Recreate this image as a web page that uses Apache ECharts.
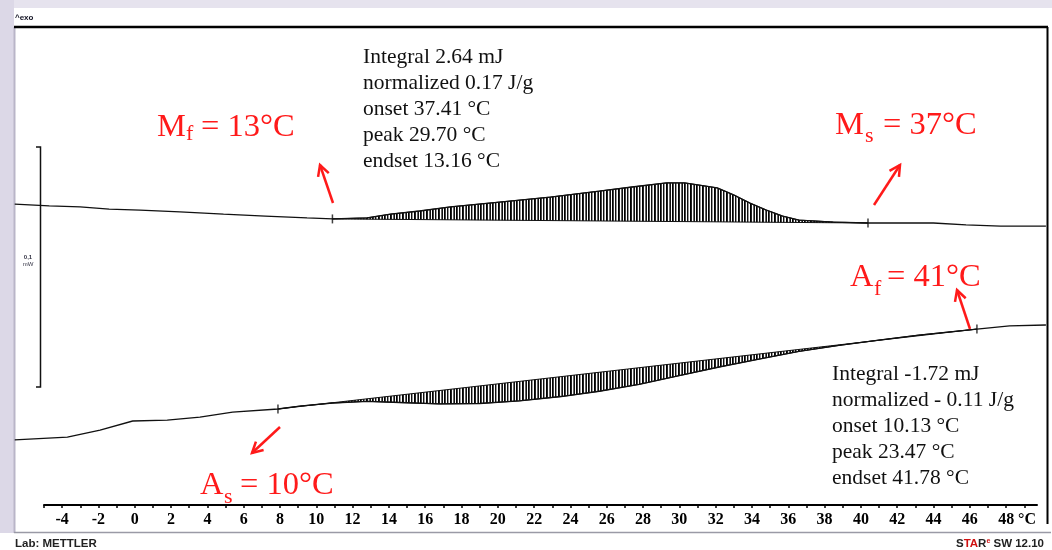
<!DOCTYPE html>
<html><head><meta charset="utf-8">
<script src="https://cdn.jsdelivr.net/npm/echarts/dist/echarts.min.js"></script>
<style>html,body{margin:0;padding:0;background:#fff}#c{width:1052px;height:550px}</style>
</head><body><div id="c"></div>
<script>
// Temperature (°C) and heat flow (mW, arbitrary offset)
const upperT = [-6.6, -4.7, -3.0, -1.4, 0.3, 2.5, 4.9, 7.2, 9.5, 10.9, 12.8, 14.1, 15.7, 17.4, 20.1, 22.9, 25.6, 27.4, 29.3, 30.3, 31.1, 32.1, 33.0, 33.9, 34.8, 35.7, 36.6, 38.5, 40.4, 44.0, 45.8, 47.7, 50.2];
const upperV = [0.0400, 0.0392, 0.0388, 0.0379, 0.0375, 0.0367, 0.0358, 0.0350, 0.0342, 0.0338, 0.0342, 0.0358, 0.0371, 0.0388, 0.0408, 0.0429, 0.0454, 0.0471, 0.0488, 0.0488, 0.0479, 0.0467, 0.0438, 0.0404, 0.0375, 0.0350, 0.0333, 0.0325, 0.0321, 0.0321, 0.0313, 0.0308, 0.0308];
const lowerT = [-6.6, -3.7, -1.9, -0.1, 1.8, 3.6, 5.4, 7.9, 9.1, 10.9, 12.8, 14.6, 16.8, 19.0, 21.2, 23.5, 25.6, 27.8, 30.0, 32.2, 34.4, 36.6, 38.8, 41.0, 43.2, 46.4, 48.2, 50.2];
const lowerV = [-0.0583, -0.0571, -0.0542, -0.0504, -0.0500, -0.0488, -0.0467, -0.0454, -0.0442, -0.0429, -0.0422, -0.0427, -0.0433, -0.0431, -0.0420, -0.0402, -0.0380, -0.0351, -0.0315, -0.0279, -0.0246, -0.0214, -0.0189, -0.0167, -0.0146, -0.0121, -0.0108, -0.0104];
// integration limits (baseline end points) of each peak
const upperLimits = [10.9, 40.4];
const lowerLimits = [7.9, 46.4];
const xTickLabels = [-4, -2, 0, 2, 4, 6, 8, 10, 12, 14, 16, 18, 20, 22, 24, 26, 28, 30, 32, 34, 36, 38, 40, 42, 44, 46, 48];
const upperInfo = ['Integral 2.64 mJ', 'normalized 0.17 J/g', 'onset 37.41 °C', 'peak 29.70 °C', 'endset 13.16 °C'];
const lowerInfo = ['Integral -1.72 mJ', 'normalized - 0.11 J/g', 'onset 10.13 °C', 'peak 23.47 °C', 'endset 41.78 °C'];

// hatch pattern (irregular vertical strokes)
const pc = document.createElement('canvas');
pc.width = 12; pc.height = 4;
const g = pc.getContext('2d');
g.fillStyle = '#fff'; g.fillRect(0, 0, 12, 4);
[[0, '#000'], [1, '#444'], [3, '#111'], [4, '#999'], [6, '#000'], [7, '#222'], [9, '#666'], [10, '#111']].forEach(([x, c]) => { g.fillStyle = c; g.fillRect(x, 0, 1, 4); });
const hatch = { image: pc, repeat: 'repeat' };

const pairs = (T, V) => T.map((t, i) => [t, V[i]]);

function hatchSeries(T, V, lim) {
  const i0 = T.indexOf(lim[0]), i1 = T.indexOf(lim[1]);
  return {
    type: 'custom', z: 2, silent: true, xAxisIndex: 0, yAxisIndex: 0,
    data: [[T[i0], V[i0]]],
    renderItem: function (params, api) {
      const pts = [];
      for (let i = i0; i <= i1; i++) pts.push(api.coord([T[i], V[i]]));
      return { type: 'polygon', shape: { points: pts }, style: { fill: hatch, stroke: '#111', lineWidth: 1 } };
    }
  };
}

const markerData = [];
[[upperT, upperV, upperLimits], [lowerT, lowerV, lowerLimits]].forEach(([T, V, L]) => {
  L.forEach(t => markerData.push([t, V[T.indexOf(t)]]));
});

const serif = 'Liberation Serif, Times New Roman, serif';
const sans = 'Liberation Sans, Arial, sans-serif';
const red = '#ff1a1a';

function txt(x, y, text, size, color, extra) {
  return { type: 'text', z: 10, style: Object.assign({ x: x, y: y, text: text, fontSize: size, fontFamily: serif, fill: color, align: 'left', verticalAlign: 'middle' }, extra || {}) };
}
function arrow(tx, ty, hx, hy) {
  const dx = hx - tx, dy = hy - ty, L = Math.hypot(dx, dy), ux = dx / L, uy = dy / L;
  const a = 28 * Math.PI / 180, s = 12;
  const w = (ang) => [hx - s * (ux * Math.cos(ang) - uy * Math.sin(ang)), hy - s * (ux * Math.sin(ang) + uy * Math.cos(ang))];
  return [
    { type: 'line', z: 10, shape: { x1: tx, y1: ty, x2: hx, y2: hy }, style: { stroke: red, lineWidth: 2.5 } },
    { type: 'polyline', z: 10, shape: { points: [w(a), [hx, hy], w(-a)] }, style: { stroke: red, lineWidth: 2.5, fill: null } }
  ];
}

const graphic = [
  { type: 'rect', z: -1, shape: { x: 0, y: 0, width: 1052, height: 8 }, style: { fill: '#e6e3ee' } },
  { type: 'rect', z: -1, shape: { x: 0, y: 0, width: 14, height: 533 }, style: { fill: '#dcd8e7' } },
  { type: 'line', z: 1, shape: { x1: 14.5, y1: 27, x2: 14.5, y2: 533 }, style: { stroke: '#b9b5c8', lineWidth: 2 } },
  { type: 'line', z: 1, shape: { x1: 14, y1: 27, x2: 1048, y2: 27 }, style: { stroke: '#000', lineWidth: 2.5 } },
  { type: 'line', z: 1, shape: { x1: 1047.5, y1: 27, x2: 1047.5, y2: 524 }, style: { stroke: '#000', lineWidth: 2 } },
  { type: 'line', z: 1, shape: { x1: 14, y1: 532.5, x2: 1051, y2: 532.5 }, style: { stroke: '#9a9aa6', lineWidth: 1.5 } },
  // scale bar
  { type: 'polyline', z: 1, shape: { points: [[36, 147], [40.5, 147], [40.5, 387], [36, 387]] }, style: { stroke: '#111', lineWidth: 1.5, fill: null } },
  { type: 'text', z: 10, style: { x: 28, y: 257, text: '0,1', fontSize: 6, fontWeight: 'bold', fontFamily: sans, fill: '#334', align: 'center', verticalAlign: 'middle' } },
  { type: 'text', z: 10, style: { x: 28, y: 264, text: 'mW', fontSize: 6, fontFamily: sans, fill: '#334', align: 'center', verticalAlign: 'middle' } },
  { type: 'text', z: 10, style: { x: 15, y: 18, text: '^exo', fontSize: 8, fontWeight: 'bold', fontFamily: sans, fill: '#112', align: 'left', verticalAlign: 'middle' } },
  // footer
  { type: 'text', z: 10, style: { x: 15, y: 544, text: 'Lab: METTLER', fontSize: 11.5, fontWeight: 'bold', fontFamily: sans, fill: '#222', align: 'left', verticalAlign: 'middle' } },
  { type: 'text', z: 10, style: { x: 1044, y: 544, text: '{k|S}{r|TA}{k|R}{s|e}{k| SW 12.10}', align: 'right', verticalAlign: 'middle', fontFamily: sans,
      rich: { k: { fontSize: 11.5, fontWeight: 'bold', fill: '#222', fontFamily: sans }, r: { fontSize: 11.5, fontWeight: 'bold', fill: '#d01010', fontFamily: sans }, s: { fontSize: 7, fontWeight: 'bold', fill: '#d01010', padding: [0, 0, 6, 0], fontFamily: sans } } } },
  // axis unit
  { type: 'text', z: 10, style: { x: 1018, y: 520, text: '°C', fontSize: 16, fontWeight: 'bold', fontFamily: serif, fill: '#000', align: 'left', verticalAlign: 'middle' } },
  // info blocks
  txt(363, 44, upperInfo.join('\n'), 21.5, '#111', { verticalAlign: 'top', lineHeight: 26 }),
  txt(832, 361, lowerInfo.join('\n'), 21.5, '#111', { verticalAlign: 'top', lineHeight: 26 }),
  // red annotations
  txt(157, 127, 'M', 32.5, red), txt(186, 134, 'f', 22, red), txt(201, 127, '= 13°C', 32.5, red),
  txt(835, 125, 'M', 32.5, red), txt(865, 136, 's', 22, red), txt(883, 125, '= 37°C', 32.5, red),
  txt(850, 277, 'A', 32.5, red), txt(874, 289, 'f', 22, red), txt(887, 277, '= 41°C', 32.5, red),
  txt(200, 485, 'A', 32.5, red), txt(224, 497, 's', 22, red), txt(240, 485, '= 10°C', 32.5, red)
].concat(arrow(333, 203, 320, 165), arrow(874, 205, 900, 165), arrow(970, 329, 957, 290), arrow(280, 427, 252, 453));

const chart = echarts.init(document.getElementById('c'), null, { renderer: 'canvas' });
chart.setOption({
  animation: false,
  backgroundColor: '#fff',
  grid: [
    { left: 14, right: 5, top: 25, bottom: 45 },   // data area spans the whole frame
    { left: 44, right: 15, top: 25, bottom: 45 }   // visible temperature axis
  ],
  xAxis: [
    { type: 'value', gridIndex: 0, min: -6.64, max: 50.26, show: false },
    {
      type: 'value', gridIndex: 1, min: -5, max: 49.7, interval: 1,
      axisLine: { show: true, onZero: false, lineStyle: { color: '#000', width: 2 } },
      axisTick: { show: true, length: 3, lineStyle: { color: '#000', width: 1.5 } },
      axisLabel: { show: true, margin: 7, fontSize: 16, fontWeight: 'bold', fontFamily: serif, color: '#000',
        showMaxLabel: false,
        formatter: v => xTickLabels.indexOf(Math.round(v * 1000) / 1000) >= 0 ? String(v) : '' },
      splitLine: { show: false }
    }
  ],
  yAxis: [
    { type: 'value', gridIndex: 0, min: -0.0854, max: 0.1146, show: false },
    { type: 'value', gridIndex: 1, min: 0, max: 1, show: false }
  ],
  series: [
    hatchSeries(upperT, upperV, upperLimits),
    hatchSeries(lowerT, lowerV, lowerLimits),
    { type: 'line', xAxisIndex: 0, yAxisIndex: 0, data: pairs(upperT, upperV), showSymbol: false, z: 3, lineStyle: { color: '#111', width: 1.3 } },
    { type: 'line', xAxisIndex: 0, yAxisIndex: 0, data: pairs(lowerT, lowerV), showSymbol: false, z: 3, lineStyle: { color: '#111', width: 1.3 } },
    { type: 'scatter', xAxisIndex: 0, yAxisIndex: 0, data: markerData, symbol: 'rect', symbolSize: [1.5, 9], itemStyle: { color: '#111' }, z: 4, silent: true }
  ],
  graphic: graphic
});
</script>
</body></html>
